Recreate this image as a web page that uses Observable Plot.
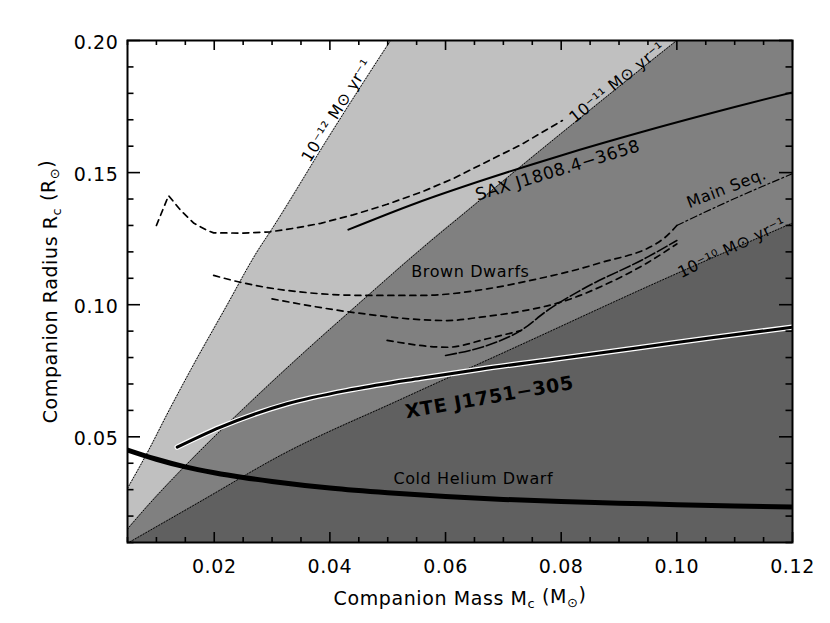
<!DOCTYPE html>
<html>
<head>
<meta charset="utf-8">
<script src="https://cdn.jsdelivr.net/npm/d3@7"></script>
<script src="https://cdn.jsdelivr.net/npm/@observablehq/plot@0.6"></script>
<style>
  html, body { margin: 0; padding: 0; background: #fff; }
  #chart svg { display: block; }
  #chart svg text { letter-spacing: 0.6px; }
</style>
</head>
<body>
<div id="chart"></div>
<script>
// ---------- values (M in Msun, R in Rsun) ----------
// constant mass-transfer-rate boundaries
const rate12M = [0.005, 0.00863, 0.012, 0.016, 0.022, 0.0274, 0.030, 0.040, 0.0505, 0.060, 0.080, 0.100, 0.120];
const rate12R = [0.0305, 0.0448, 0.0592, 0.0756, 0.0990, 0.1200, 0.1287, 0.1642, 0.2000, 0.2314, 0.2954, 0.357, 0.416];
const rate11M = [0.005, 0.008, 0.012, 0.0176, 0.025, 0.035, 0.045, 0.055, 0.065, 0.075, 0.085, 0.100, 0.120];
const rate11R = [0.0151, 0.0227, 0.0322, 0.0448, 0.0605, 0.0809, 0.1004, 0.1196, 0.1378, 0.1559, 0.1737, 0.2000, 0.2337];
const rate10M = [0.005, 0.0176, 0.0315, 0.0522, 0.0730, 0.0954, 0.120];
const rate10R = [0.0097, 0.0255, 0.0430, 0.0641, 0.0848, 0.1073, 0.1309];

// cold helium dwarf
const heM = [0.005, 0.010, 0.015, 0.020, 0.025, 0.030, 0.040, 0.050, 0.060, 0.070, 0.080, 0.090, 0.100, 0.110, 0.120];
const heR = [0.0450, 0.0415, 0.0386, 0.0364, 0.0346, 0.0331, 0.0306, 0.0288, 0.0274, 0.0263, 0.0255, 0.0249, 0.0243, 0.0238, 0.0234];

// XTE J1751-305
const xteM = [0.0136, 0.021, 0.0326, 0.0441, 0.0557, 0.066, 0.080, 0.0931, 0.106, 0.120];
const xteR = [0.0461, 0.0536, 0.0625, 0.0680, 0.0722, 0.0756, 0.0797, 0.0836, 0.0875, 0.0915];

// SAX J1808.4-3658
const saxM = [0.0432, 0.055, 0.066, 0.080, 0.095, 0.110, 0.120];
const saxR = [0.1284, 0.1385, 0.1468, 0.1565, 0.1660, 0.1748, 0.1804];

// brown dwarf model tracks (dashed)
const bdTopM = [0.0100, 0.0121, 0.0142, 0.0165, 0.0188, 0.0199, 0.0250, 0.0297, 0.0340, 0.0384, 0.0440, 0.0499, 0.0560, 0.0614, 0.0661, 0.0730, 0.0802];
const bdTopR = [0.1300, 0.1413, 0.1357, 0.1308, 0.1281, 0.1272, 0.1271, 0.1276, 0.1290, 0.1308, 0.1340, 0.1380, 0.1428, 0.1478, 0.1530, 0.1605, 0.1697];
const bdAM = [0.0199, 0.0245, 0.0326, 0.0465, 0.0557, 0.0672, 0.0747, 0.0862, 0.0977, 0.1000];
const bdAR = [0.1111, 0.1085, 0.1054, 0.1035, 0.1035, 0.1060, 0.1092, 0.1155, 0.1250, 0.1300];
const bdBM = [0.0300, 0.0436, 0.0603, 0.0661, 0.0730, 0.0800, 0.0880, 0.0950, 0.1000];
const bdBR = [0.1022, 0.0972, 0.0940, 0.0953, 0.0975, 0.1010, 0.1080, 0.1160, 0.1230];
const bdCM = [0.0499, 0.0603, 0.0672, 0.0730];
const bdCR = [0.0865, 0.0839, 0.0871, 0.0902];
const bdDM = [0.0600, 0.0672, 0.0730, 0.0776, 0.0833, 0.0949, 0.1000];
const bdDR = [0.0808, 0.0846, 0.0902, 0.0978, 0.1054, 0.1180, 0.1243];

// main sequence
const msM = [0.100, 0.110, 0.120];
const msR = [0.1300, 0.1402, 0.1496];

// annotations
const noteText  = ["10⁻¹² M⊙ yr⁻¹", "10⁻¹¹ M⊙ yr⁻¹", "10⁻¹⁰ M⊙ yr⁻¹", "Main Seq.", "SAX J1808.4−3658", "Brown Dwarfs", "Cold Helium Dwarf"];
const noteM     = [0.0412, 0.0897, 0.1095, 0.1086, 0.0794, 0.0643, 0.0648];
const noteR     = [0.1735, 0.1841, 0.1215, 0.1440, 0.1508, 0.1126, 0.0342];
const noteAngle = [-58, -39, -26, -21, -17, 0, 0];
const noteSize  = [16, 16, 16, 16, 17, 16, 16];
const xteText = ["XTE J1751−305"];
const xteLabM = [0.0676];
const xteLabR = [0.0649];
const xteAngle = [-10];

// ticks
const xMajor = [0.02, 0.04, 0.06, 0.08, 0.10, 0.12];
const xMinor = [0.005, 0.01, 0.015, 0.025, 0.03, 0.035, 0.045, 0.05, 0.055, 0.065, 0.07, 0.075, 0.085, 0.09, 0.095, 0.105, 0.11, 0.115];
const yMajor = [0.05, 0.10, 0.15, 0.20];
const yMinor = [0.01, 0.02, 0.03, 0.04, 0.06, 0.07, 0.08, 0.09, 0.11, 0.12, 0.13, 0.14, 0.16, 0.17, 0.18, 0.19];

// ---------- layout ----------
const W = 830, H = 623, mL = 127, mR = 38, mT = 40, mB = 81;
const frameW = W - mL - mR, frameH = H - mT - mB;

// ---------- build ----------
const zip = (M, R) => M.map((m, i) => ({M: m, R: R[i]}));
const b12 = zip(rate12M, rate12R), b11 = zip(rate11M, rate11R), b10 = zip(rate10M, rate10R);
const notes = noteText.map((t, i) => ({t, M: noteM[i], R: noteR[i], a: noteAngle[i], s: noteSize[i]}));
const xteNote = xteText.map((t, i) => ({t, M: xteLabM[i], R: xteLabR[i], a: xteAngle[i]}));
const fmt = d3.format(".2f");
const dotted = {x: "M", y: "R", stroke: "black", strokeWidth: 1, strokeDasharray: "1,2", clip: true, curve: "monotone-x"};
const dashed = {x: "M", y: "R", stroke: "black", strokeWidth: 1.7, strokeDasharray: "6,5", clip: true, curve: "monotone-x"};

// inward tick marks: short rules hugging each side of the frame
const tickStyle = {stroke: "black", strokeWidth: 1.6};
const tickX = (data, side, size) => Plot.ruleX(data, {x: (d) => d, ...tickStyle,
  ...(side === "bottom" ? {insetTop: frameH - size} : {insetBottom: frameH - size})});
const tickY = (data, side, size) => Plot.ruleY(data, {y: (d) => d, ...tickStyle,
  ...(side === "left" ? {insetRight: frameW - size} : {insetLeft: frameW - size})});

const chart = Plot.plot({
  width: W,
  height: H,
  marginLeft: mL,
  marginRight: mR,
  marginTop: mT,
  marginBottom: mB,
  style: {fontFamily: "DejaVu Sans, sans-serif", fontSize: "19px", background: "white", color: "black"},
  x: {domain: [0.005, 0.12]},
  y: {domain: [0.01, 0.20]},
  marks: [
    Plot.areaY(b12, {x: "M", y: "R", fill: "#c0c0c0", clip: true, curve: "monotone-x"}),
    Plot.areaY(b11, {x: "M", y: "R", fill: "#808080", clip: true, curve: "monotone-x"}),
    Plot.areaY(b10, {x: "M", y: "R", fill: "#606060", clip: true, curve: "monotone-x"}),
    Plot.line(b12, dotted),
    Plot.line(b11, dotted),
    Plot.line(b10, dotted),
    Plot.line(zip(bdTopM, bdTopR), {...dashed, curve: "linear"}),
    Plot.line(zip(bdAM, bdAR), dashed),
    Plot.line(zip(bdBM, bdBR), dashed),
    Plot.line(zip(bdCM, bdCR), dashed),
    Plot.line(zip(bdDM, bdDR), {...dashed, strokeDasharray: "11,3", strokeWidth: 1.6}),
    Plot.line(zip(msM, msR), {...dashed, strokeDasharray: "7,3,2,3", strokeWidth: 1.2}),
    Plot.line(zip(saxM, saxR), {x: "M", y: "R", stroke: "black", strokeWidth: 2, curve: "monotone-x", clip: true}),
    Plot.line(zip(xteM, xteR), {x: "M", y: "R", stroke: "white", strokeWidth: 5.5, curve: "monotone-x", clip: true}),
    Plot.line(zip(xteM, xteR), {x: "M", y: "R", stroke: "black", strokeWidth: 3, curve: "monotone-x", clip: true}),
    Plot.line(zip(heM, heR), {x: "M", y: "R", stroke: "black", strokeWidth: 5, curve: "monotone-x", clip: true}),
    Plot.text(notes, {x: "M", y: "R", text: "t", rotate: "a", fontSize: "s", fill: "black"}),
    Plot.text(xteNote, {x: "M", y: "R", text: "t", rotate: "a", fontSize: 19, fontWeight: "bold", fill: "black"}),
    tickX(xMajor, "bottom", 10), tickX(xMinor, "bottom", 5),
    tickX(xMajor, "top", 10), tickX(xMinor, "top", 5),
    tickY(yMajor, "left", 13), tickY(yMinor, "left", 6.5),
    tickY(yMajor, "right", 13), tickY(yMinor, "right", 6.5),
    Plot.frame({stroke: "black", strokeWidth: 2}),
    Plot.axisX(xMajor, {anchor: "bottom", tickSize: 0, tickPadding: 17, tickFormat: fmt,
      label: "Companion Mass Mc (M⊙)", labelAnchor: "center", labelOffset: 62}),
    Plot.axisY(yMajor, {anchor: "left", tickSize: 0, tickPadding: 9, dy: 2, tickFormat: fmt,
      label: "Companion Radius Rc (R⊙)", labelAnchor: "center", labelOffset: 84})
  ]
});

document.getElementById("chart").appendChild(chart);

// subscripts in axis titles (text stays where Plot put it)
function richLabel(sel, word, sym) {
  if (sel.empty()) return;
  sel.text(null);
  sel.append("tspan").text("Companion " + word + " " + sym);
  sel.append("tspan").attr("font-size", "13px").attr("dy", "0.3em").text("c");
  sel.append("tspan").attr("dy", "-0.3em").text(" (" + sym);
  sel.append("tspan").attr("font-size", "13px").attr("dy", "0.3em").text("⊙");
  sel.append("tspan").attr("dy", "-0.3em").text(")");
}
const svg = d3.select(chart);
richLabel(svg.select('g[aria-label="x-axis label"] text'), "Mass", "M");
richLabel(svg.select('g[aria-label="y-axis label"] text'), "Radius", "R");
</script>
</body>
</html>
